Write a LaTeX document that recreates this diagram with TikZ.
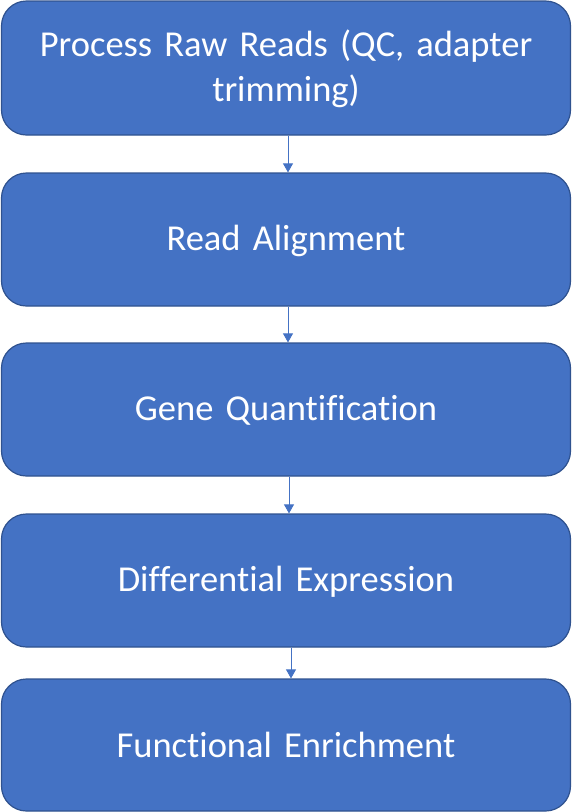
\documentclass[tikz,border=0pt]{standalone}
\usepackage{fontspec}
\setmainfont[Ligatures=NoCommon]{Carlito}
\usetikzlibrary{arrows.meta}
\definecolor{boxfill}{HTML}{4472C4}
\definecolor{boxline}{HTML}{2F528F}
\begin{document}
\begin{tikzpicture}[x=1pt,y=-1pt,
  stepbox/.style={draw=boxline, line width=1.2pt, fill=boxfill, rounded corners=25pt, text=white,
    font=\fontsize{36.5}{45}\selectfont, align=center, minimum width=569pt, text width=545pt, inner sep=0pt},
  lowtext/.style={text depth=3pt},
  conn/.style={draw=boxfill, line width=0.9pt, -{Triangle[length=9pt,width=10pt]}}]
\useasboundingbox (0,0) rectangle (572,812);
\node[stepbox, minimum height=134pt] (a) at (286,68) {\rule{0pt}{29pt}Process Raw Reads (QC, adapter\\trimming)};
\node[stepbox, lowtext, minimum height=133pt] (b) at (286,239.5) {Read Alignment};
\node[stepbox, lowtext, minimum height=133pt] (c) at (286,409.5) {Gene Quantification};
\node[stepbox, lowtext, minimum height=133pt] (d) at (286,580.5) {Differential Expression};
\node[stepbox, minimum height=132pt] (e) at (286,745) {Functional Enrichment};
\draw[conn] ([xshift=2pt]a.south) -- ([xshift=2pt]b.north);
\draw[conn] ([xshift=2pt]b.south) -- ([xshift=2pt]c.north);
\draw[conn] ([xshift=3pt]c.south) -- ([xshift=3pt]d.north);
\draw[conn] ([xshift=5pt]d.south) -- ([xshift=5pt]e.north);
\end{tikzpicture}
\end{document}
